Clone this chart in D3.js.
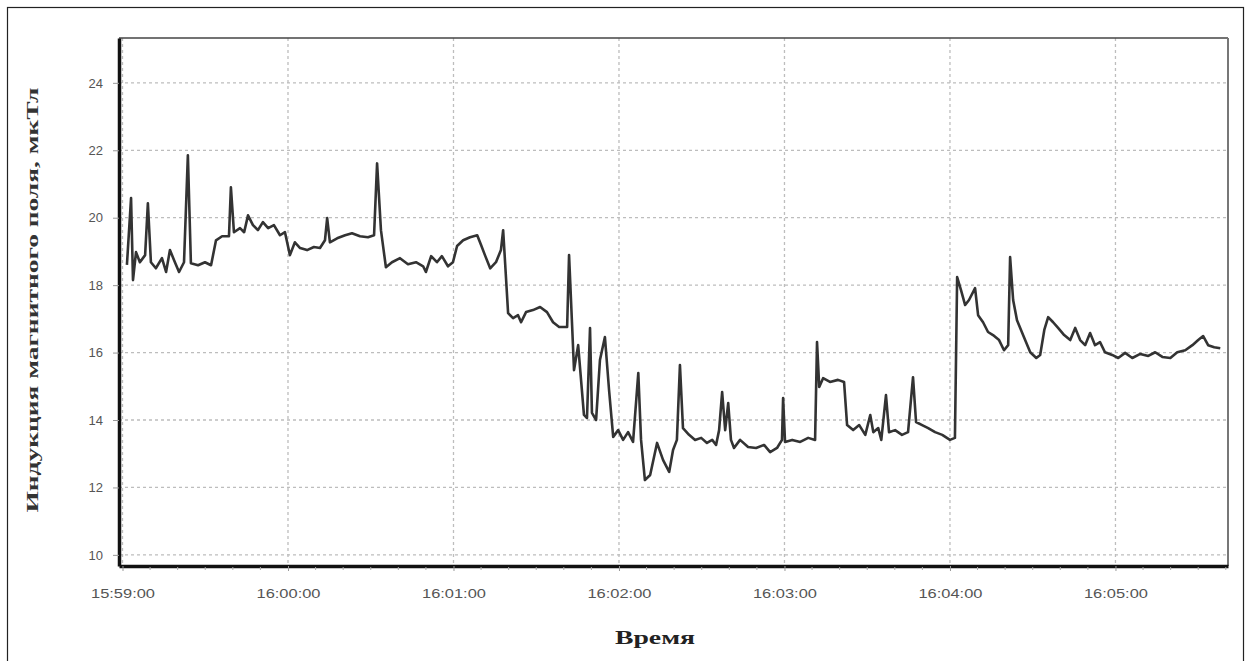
<!DOCTYPE html>
<html><head><meta charset="utf-8">
<script src="https://cdn.jsdelivr.net/npm/d3@7"></script>
<style>body{margin:0;background:#fff;}svg{display:block;}</style>
</head><body>
<script>
// seconds after 15:59:00
const seconds = [1.6,3.1,3.8,4.9,6.3,8.2,9.2,10.3,12.1,14.3,15.8,17.2,19.0,20.5,22.3,23.7,24.8,27.4,29.9,32.1,33.9,36.1,38.6,39.3,40.4,42.6,44.1,45.5,47.3,49.1,50.9,52.8,54.9,57.1,58.9,60.7,62.5,64.4,66.9,69.4,71.6,73.4,74.2,75.2,77.8,80.7,83.2,86.1,89.0,91.2,92.3,93.7,95.5,97.7,100.6,103.5,106.4,109.0,110.0,111.9,114.0,115.8,118.0,119.8,121.3,123.5,126.0,128.6,130.0,131.4,133.3,135.4,137.2,138.0,138.7,139.8,141.6,143.4,144.5,146.3,148.8,151.4,153.9,156.1,158.3,161.2,161.9,163.0,163.7,165.2,167.3,168.4,169.5,170.2,171.7,173.1,174.9,176.4,177.9,179.7,181.5,183.3,185.1,187.0,188.0,189.4,191.3,193.8,196.0,198.2,199.6,201.0,202.1,203.2,205.4,207.6,209.8,211.9,213.8,215.2,216.3,217.4,218.5,219.6,220.6,221.7,223.9,226.8,229.7,232.6,234.8,237.3,239.1,239.5,240.2,242.8,245.7,248.6,251.1,251.8,252.6,254.0,256.5,259.4,261.6,262.7,264.9,267.1,269.3,271.1,272.2,274.0,275.1,276.8,277.9,280.1,282.6,284.8,286.6,287.7,289.9,292.1,294.6,297.2,300.0,301.8,302.6,304.0,305.5,306.9,309.1,310.2,312.0,313.8,315.6,317.8,319.6,321.1,321.8,322.9,324.3,326.5,329.1,331.3,332.7,334.2,335.6,337.4,339.2,341.4,343.6,345.4,347.2,349.0,350.8,352.6,354.4,356.2,358.8,361.0,363.5,366.1,369.0,371.9,374.4,377.0,379.9,382.4,385.3,387.9,390.0,391.8,393.6,395.8,398.0];
const induction = [18.6,20.58,18.15,18.98,18.68,18.89,20.43,18.68,18.5,18.8,18.39,19.04,18.68,18.39,18.68,21.85,18.65,18.59,18.68,18.59,19.33,19.45,19.45,20.9,19.57,19.69,19.57,20.07,19.78,19.63,19.87,19.69,19.78,19.48,19.57,18.89,19.27,19.1,19.04,19.13,19.1,19.33,19.99,19.27,19.39,19.48,19.54,19.45,19.42,19.48,21.61,19.63,18.53,18.68,18.8,18.62,18.68,18.56,18.39,18.86,18.68,18.86,18.56,18.68,19.16,19.33,19.42,19.48,19.19,18.89,18.5,18.68,19.04,19.63,18.68,17.17,17.02,17.11,16.9,17.2,17.26,17.35,17.2,16.9,16.76,16.76,18.89,16.81,15.48,16.22,14.15,14.06,16.73,14.21,14.0,15.78,16.46,14.89,13.5,13.7,13.41,13.64,13.35,15.39,13.41,12.22,12.37,13.32,12.81,12.46,13.11,13.41,15.63,13.76,13.56,13.41,13.47,13.32,13.41,13.26,13.7,14.83,13.7,14.5,13.41,13.17,13.41,13.2,13.17,13.26,13.05,13.17,13.41,14.65,13.35,13.41,13.35,13.47,13.41,16.31,14.98,15.24,15.13,15.19,15.13,13.85,13.7,13.85,13.56,14.15,13.64,13.76,13.41,14.74,13.64,13.7,13.56,13.64,15.27,13.94,13.85,13.76,13.64,13.56,13.41,13.47,18.24,17.85,17.41,17.56,17.91,17.11,16.9,16.61,16.52,16.37,16.07,16.22,18.83,17.56,16.96,16.52,16.01,15.84,15.93,16.67,17.05,16.9,16.73,16.52,16.37,16.73,16.37,16.22,16.58,16.22,16.31,16.01,15.93,15.84,15.99,15.84,15.96,15.9,16.01,15.87,15.84,16.01,16.07,16.22,16.37,16.49,16.22,16.16,16.13];
const xTickLabels = ["15:59:00","16:00:00","16:01:00","16:02:00","16:03:00","16:04:00","16:05:00"];
const yTickValues = [10,12,14,16,18,20,22,24];
const yTitle = "Индукция магнитного поля, мкТл";
const xTitle = "Время";

const W = 1250, H = 661;
const L = 119, T = 38, R = 1228, B = 566;
const base = new Date(2000,0,1,15,59,0);
const toDate = s => new Date(base.getTime() + s*1000);

const svg = d3.select("body").append("svg").attr("width", W).attr("height", H);
svg.append("rect").attr("x",7.5).attr("y",7.5).attr("width",1236).attr("height",665)
  .attr("fill","#fff").attr("stroke","#222").attr("stroke-width",1.2);

const x = d3.scaleTime().domain([toDate(-1.27), toDate(400.8)]).range([L, R]);
const y = d3.scaleLinear().domain([9.67, 25.33]).range([B, T]);

const majorX = xTickLabels.map((s,i) => toDate(i*60));

svg.append("rect").attr("x",L).attr("y",T).attr("width",R-L).attr("height",B-T).attr("fill","#fff");

// grid
const grid = svg.append("g").attr("stroke","#bdbdbd").attr("stroke-width",1.3).attr("stroke-dasharray","3,3");
grid.selectAll(".gx").data(majorX).join("line")
  .attr("x1",d=>x(d)).attr("x2",d=>x(d)).attr("y1",T).attr("y2",B);
grid.selectAll(".gy").data(yTickValues).join("line")
  .attr("x1",L).attr("x2",R).attr("y1",d=>y(d)).attr("y2",d=>y(d));

// line
const pts = seconds.map((s,i)=>({t:toDate(s), v:induction[i]}));
svg.append("path").datum(pts)
  .attr("fill","none").attr("stroke","#333").attr("stroke-width",2.6).attr("stroke-linejoin","round")
  .attr("d", d3.line().x(d=>x(d.t)).y(d=>y(d.v)));

// frame top/right
svg.append("line").attr("x1",L).attr("x2",R).attr("y1",T).attr("y2",T).attr("stroke","#444").attr("stroke-width",1.5);
svg.append("line").attr("x1",R).attr("x2",R).attr("y1",T).attr("y2",B).attr("stroke","#777").attr("stroke-width",2);

// x axis
const xAxis = d3.axisBottom(x).tickValues(majorX).tickFormat((d,i)=>xTickLabels[i]).tickSize(5).tickSizeOuter(0).tickPadding(18);
const gx = svg.append("g").attr("transform",`translate(0,${B})`).call(xAxis);
gx.select(".domain").attr("stroke","#111").attr("stroke-width",3.5);
gx.selectAll(".tick line").attr("stroke","#999");
gx.selectAll("text").attr("font-family","Liberation Sans, Arial, sans-serif").attr("font-size",12.5)
  .attr("fill","#555").attr("textLength",64).attr("lengthAdjust","spacingAndGlyphs");
const minorX = d3.range(0, 401, 10).filter(s=>s%60!==0).map(toDate);
svg.append("g").selectAll("line").data(minorX).join("line")
  .attr("x1",d=>x(d)).attr("x2",d=>x(d)).attr("y1",B+1).attr("y2",B+4).attr("stroke","#aaa");

// y axis
const yAxis = d3.axisLeft(y).tickValues(yTickValues).tickSize(6).tickSizeOuter(0).tickPadding(10);
const gy = svg.append("g").attr("transform",`translate(${L},0)`).call(yAxis);
gy.select(".domain").attr("stroke","#111").attr("stroke-width",3.5);
gy.selectAll(".tick line").attr("stroke","#999");
gy.selectAll("text").attr("font-family","Liberation Sans, Arial, sans-serif").attr("font-size",13)
  .attr("fill","#555");

// titles
svg.append("text").attr("transform",`translate(38,300) rotate(-90)`).attr("text-anchor","middle")
  .attr("font-family","Liberation Serif, Times New Roman, serif").attr("font-weight","bold").attr("font-size",16)
  .attr("fill","#333").attr("textLength",425).attr("lengthAdjust","spacingAndGlyphs").text(yTitle);
svg.append("text").attr("x",655).attr("y",644).attr("text-anchor","middle")
  .attr("font-family","Liberation Serif, Times New Roman, serif").attr("font-weight","bold").attr("font-size",18)
  .attr("fill","#222").attr("textLength",80).attr("lengthAdjust","spacingAndGlyphs").text(xTitle);
</script>
</body></html>
